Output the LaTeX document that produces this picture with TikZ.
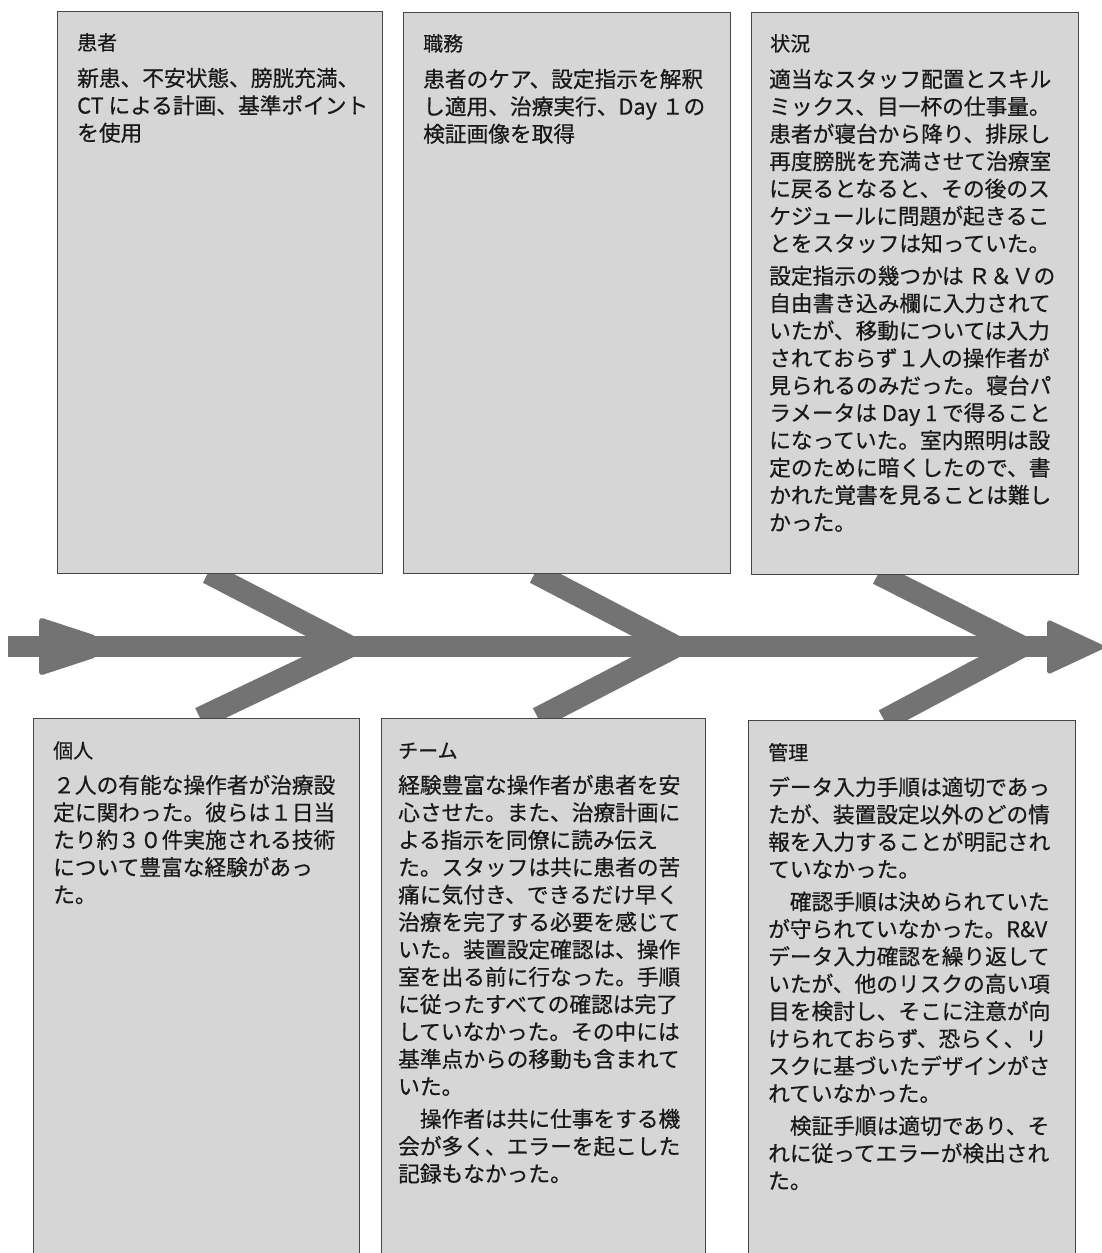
\documentclass[tikz,border=0pt]{standalone}
\usepackage{fontspec}
\newfontfamily\jp[FakeBold=0.6]{Noto Sans CJK JP}
\definecolor{boxfill}{RGB}{214,214,214}
\definecolor{boxline}{RGB}{70,70,70}
\definecolor{bonec}{RGB}{115,115,115}
\definecolor{textc}{RGB}{25,25,25}
\tikzset{
  box/.style={draw=boxline, fill=boxfill, line width=1.2pt, anchor=north west, inner sep=0pt},
  boxtitle/.style={anchor=base west, inner sep=0pt, font=\jp\fontsize{20}{24}\selectfont, text=textc},
  boxbody/.style={anchor=north west, inner sep=0pt, align=left, font=\jp\fontsize{21.7}{27.4}\selectfont, text=textc},
  bone/.style={draw=bonec, line width=22pt, line join=miter},
  spine/.style={draw=bonec, line width=21pt},
  arrowhd/.style={fill=bonec, rounded corners=4pt}
}
\newcommand{\fst}{\rule{0pt}{20pt}}
\begin{document}
\begin{tikzpicture}[x=1pt,y=-1pt]
\useasboundingbox (0,0) rectangle (1102,1253);
\clip (0,0) rectangle (1102,1253);
\fill[white] (0,0) rectangle (1102,1253);

% spine and arrowheads
\coordinate (tail) at (8,646.5);
\coordinate (headback) at (1052,646.5);
\draw[spine] (tail) -- (headback);
\fill[arrowhd] (39,617) -- (97,636) -- (97,657) -- (39,676) -- cycle;
\fill[arrowhd] (1047,619) -- (1107,647) -- (1047,675) -- cycle;

% bones
\coordinate (j1) at (350,646.5);
\coordinate (j2) at (676,646.5);
\coordinate (j3) at (1022,646.5);
\coordinate (u1) at (208,573);
\coordinate (l1) at (200,718);
\coordinate (u2) at (535,573);
\coordinate (l2) at (538,718);
\coordinate (u3) at (878,574);
\coordinate (l3) at (884,720);
\draw[bone] (u1) -- (j1) -- (l1);
\draw[bone] (u2) -- (j2) -- (l2);
\draw[bone] (u3) -- (j3) -- (l3);

% top boxes
\node[box, minimum width=325pt, minimum height=562pt] (p1) at (57,11) {};
\node[box, minimum width=327pt, minimum height=561pt] (p2) at (403,12) {};
\node[box, minimum width=327pt, minimum height=562pt] (p3) at (751,12) {};
% bottom boxes
\node[box, minimum width=326pt, minimum height=560pt] (p4) at (33,718) {};
\node[box, minimum width=324pt, minimum height=560pt] (p5) at (381,718) {};
\node[box, minimum width=327pt, minimum height=560pt] (p6) at (748,720) {};

% texts
\node[boxtitle] (t1) at ([shift={(20,39)}]p1.north west) {患者};
\node[boxbody] (b1) at ([shift={(20,55)}]p1.north west) {\fst 新患、不安状態、膀胱充満、\\CT による計画、基準ポイント\\を使用};

\node[boxtitle] (t2) at ([shift={(20,39)}]p2.north west) {職務};
\node[boxbody] (b2) at ([shift={(20,55)}]p2.north west) {\fst 患者のケア、設定指示を解釈\\し適用、治療実行、Day １の\\検証画像を取得};

\node[boxtitle] (t3) at ([shift={(19,39)}]p3.north west) {状況};
\node[boxbody] (b3) at ([shift={(18,55)}]p3.north west) {\fst 適当なスタッフ配置とスキル\\ミックス、目一杯の仕事量。\\患者が寝台から降り、排尿し\\再度膀胱を充満させて治療室\\に戻るとなると、その後のス\\ケジュールに問題が起きるこ\\とをスタッフは知っていた。\\[5pt]設定指示の幾つかは Ｒ＆Ｖの\\自由書き込み欄に入力されて\\いたが、移動については入力\\されておらず１人の操作者が\\見られるのみだった。寝台パ\\ラメータは Day 1 で得ること\\になっていた。室内照明は設\\定のために暗くしたので、書\\かれた覚書を見ることは難し\\かった。};

\node[boxtitle] (t4) at ([shift={(20,40)}]p4.north west) {個人};
\node[boxbody] (b4) at ([shift={(20,55)}]p4.north west) {\fst ２人の有能な操作者が治療設\\定に関わった。彼らは１日当\\たり約３０件実施される技術\\について豊富な経験があっ\\た。};

\node[boxtitle] (t5) at ([shift={(17,40)}]p5.north west) {チーム};
\node[boxbody] (b5) at ([shift={(17,55)}]p5.north west) {\fst 経験豊富な操作者が患者を安\\心させた。また、治療計画に\\よる指示を同僚に読み伝え\\た。スタッフは共に患者の苦\\痛に気付き、できるだけ早く\\治療を完了する必要を感じて\\いた。装置設定確認は、操作\\室を出る前に行なった。手順\\に従ったすべての確認は完了\\していなかった。その中には\\基準点からの移動も含まれて\\いた。\\[5pt]　操作者は共に仕事をする機\\会が多く、エラーを起こした\\記録もなかった。};

\node[boxtitle] (t6) at ([shift={(20,40)}]p6.north west) {管理};
\node[boxbody] (b6) at ([shift={(20,55)}]p6.north west) {\fst データ入力手順は適切であっ\\たが、装置設定以外のどの情\\報を入力することが明記され\\ていなかった。\\[5pt]　確認手順は決められていた\\が守られていなかった。R\&V\\データ入力確認を繰り返して\\いたが、他のリスクの高い項\\目を検討し、そこに注意が向\\けられておらず、恐らく、リ\\スクに基づいたデザインがさ\\れていなかった。\\[5pt]　検証手順は適切であり、そ\\れに従ってエラーが検出され\\た。};
\end{tikzpicture}
\end{document}
